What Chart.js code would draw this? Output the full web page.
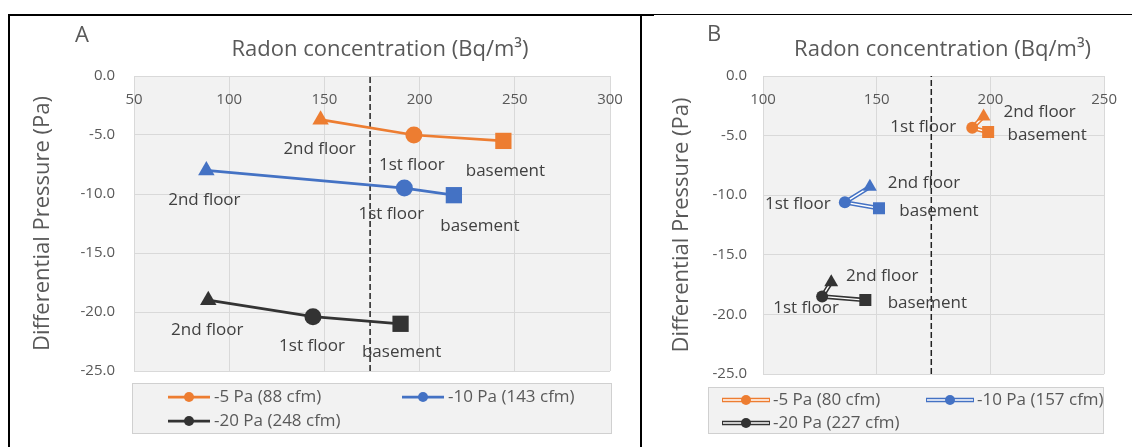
<!DOCTYPE html>
<html>
<head>
<meta charset="utf-8">
<script src="https://cdn.jsdelivr.net/npm/chart.js@4.4.1/dist/chart.umd.min.js"></script>
<style>
html,body{margin:0;padding:0;background:#fff;}
body{width:1132px;height:447px;position:relative;overflow:hidden;}
.wrap{position:absolute;top:16px;}
.rule{position:absolute;background:#000;}
canvas{display:block;}
</style>
</head>
<body>
<div class="rule" style="left:8px;top:14px;width:646px;height:2px"></div>
<div class="rule" style="left:654px;top:14px;width:478px;height:1px"></div>
<div class="rule" style="left:8px;top:14px;width:2px;height:433px"></div>
<div class="rule" style="left:640px;top:14px;width:2px;height:433px"></div>
<div class="wrap" style="left:10px"><canvas id="chartA" width="630" height="431"></canvas></div>
<div class="wrap" style="left:643px"><canvas id="chartB" width="489" height="431"></canvas></div>
<script>
// ---------------- data ----------------
const floors = ['2nd floor', '1st floor', 'basement'];
const floorMarkers = ['triangle', 'circle', 'rect'];

// Panel A
const seriesNamesA = ['-5 Pa (88 cfm)', '-10 Pa (143 cfm)', '-20 Pa (248 cfm)'];
const radonA5 = [148, 197, 244];
const pressureA5 = [-3.7, -5.0, -5.5];
const radonA10 = [88, 192, 218];
const pressureA10 = [-8.0, -9.5, -10.1];
const radonA20 = [89, 144, 190];
const pressureA20 = [-19.0, -20.4, -21.0];

// Panel B
const seriesNamesB = ['-5 Pa (80 cfm)', '-10 Pa (157 cfm)', '-20 Pa (227 cfm)'];
const radonB5 = [197, 192, 199];
const pressureB5 = [-3.4, -4.35, -4.7];
const radonB10 = [147, 136, 151];
const pressureB10 = [-9.3, -10.6, -11.1];
const radonB20 = [130, 126, 145];
const pressureB20 = [-17.3, -18.5, -18.8];

// reference level (dashed vertical line)
const radonGuideline = 174;

// axis ticks: [min, max, step]
const xTicksA = [50, 300, 50];
const xTicksB = [100, 250, 50];
const yTicks = [-25, 0, 5];

const xTitle = 'Radon concentration (Bq/m\u00B3)';
const yTitle = 'Differential Pressure (Pa)';

// ---------------- styles ----------------
const FONT = "'Open Sans', 'DejaVu Sans', sans-serif";
const COLORS = ['#ED7D31', '#4472C4', '#333333'];
const GRAY_TEXT = '#595959';
const LABEL_TEXT = '#404040';
const GRID = '#d9d9d9';

const labelOffsetsA = [
  [[-1, 29], [-2, 30], [2, 30]],
  [[-2, 30], [-13, 26], [26, 31]],
  [[-1, 30], [-1, 29], [1, 28]]
];
const labelOffsetsB = [
  [[56, -4], [-49, -1], [59, 3]],
  [[54, -4], [-47, 2], [60, 3]],
  [[51, -6], [-16, 12], [62, 3]]
];

// ---------------- plugins ----------------
const plotBg = {
  id: 'plotBg',
  beforeDraw(chart, args, o) {
    const {ctx, chartArea: a} = chart;
    ctx.save();
    ctx.fillStyle = o.color;
    ctx.fillRect(a.left, a.top, a.right - a.left, a.bottom - a.top);
    ctx.restore();
  }
};

const panelText = {
  id: 'panelText',
  afterDraw(chart, args, o) {
    const {ctx, chartArea: a} = chart;
    ctx.save();
    ctx.fillStyle = o.color;
    ctx.textBaseline = 'middle';
    ctx.textAlign = 'center';
    ctx.font = o.letterSize + 'px ' + FONT;
    ctx.fillText(o.letter, o.letterX, o.letterY);
    ctx.font = o.titleSize + 'px ' + FONT;
    ctx.fillText(o.title, (a.left + a.right) / 2 + o.titleDx, o.titleY);
    ctx.restore();
  }
};

const floorLabels = {
  id: 'floorLabels',
  afterDatasetsDraw(chart, args, o) {
    const ctx = chart.ctx;
    ctx.save();
    ctx.font = o.size + 'px ' + FONT;
    ctx.fillStyle = o.color;
    ctx.textAlign = 'center';
    ctx.textBaseline = 'middle';
    chart.data.datasets.forEach((ds, i) => {
      if (!ds.pointLabels) return;
      const meta = chart.getDatasetMeta(i);
      meta.data.forEach((el, j) => {
        const off = ds.labelOffsets[j];
        ctx.fillText(ds.pointLabels[j], el.x + off[0], el.y + off[1]);
      });
    });
    ctx.restore();
  }
};

const boxLegend = {
  id: 'boxLegend',
  afterDraw(chart, args, o) {
    const {ctx, chartArea: a} = chart;
    ctx.save();
    const x0 = Math.round(a.left + o.box[0]), x1 = Math.round(a.right + o.box[1]);
    const y0 = Math.round(a.bottom + o.box[2]), y1 = Math.round(a.bottom + o.box[3]);
    ctx.fillStyle = o.fill;
    ctx.fillRect(x0, y0, x1 - x0, y1 - y0);
    ctx.strokeStyle = o.border;
    ctx.lineWidth = 1;
    ctx.strokeRect(x0 + 0.5, y0 + 0.5, x1 - x0 - 1, y1 - y0 - 1);
    ctx.font = o.size + 'px ' + FONT;
    ctx.textBaseline = 'middle';
    ctx.textAlign = 'left';
    o.items.forEach((text, k) => {
      const sx = a.left + o.slots[k][0], sy = a.bottom + o.slots[k][1];
      ctx.strokeStyle = o.colors[k];
      ctx.lineWidth = o.double ? 4.5 : 2.75;
      ctx.beginPath(); ctx.moveTo(sx, sy); ctx.lineTo(sx + o.sampleW, sy); ctx.stroke();
      if (o.double) {
        ctx.strokeStyle = '#ffffff';
        ctx.lineWidth = 1.5;
        ctx.beginPath(); ctx.moveTo(sx + 1, sy); ctx.lineTo(sx + o.sampleW - 1, sy); ctx.stroke();
      }
      ctx.fillStyle = o.colors[k];
      ctx.beginPath(); ctx.arc(sx + o.sampleW / 2, sy, o.markerR, 0, Math.PI * 2); ctx.fill();
      ctx.fillStyle = GRAY_TEXT;
      ctx.fillText(text, sx + o.textDx, sy);
    });
    ctx.restore();
  }
};

// ---------------- builders ----------------
function points(xs, ys) { return xs.map((x, i) => ({x: x, y: ys[i]})); }

function guideDataset() {
  return {
    data: [{x: radonGuideline, y: yTicks[0]}, {x: radonGuideline, y: yTicks[1]}],
    borderColor: '#222222', borderWidth: 1.5, borderDash: [6, 3],
    pointRadius: 0, showLine: true, order: 20
  };
}

function singleSeries(xs, ys, color, offsets, radii, lw) {
  return {
    data: points(xs, ys),
    showLine: true,
    borderColor: color, borderWidth: lw,
    backgroundColor: color,
    pointStyle: floorMarkers, pointRadius: radii, pointBorderWidth: 0,
    pointBackgroundColor: color,
    pointLabels: floors, labelOffsets: offsets,
    order: 5
  };
}

function doubleSeries(xs, ys, color, offsets, radii) {
  const pts = points(xs, ys);
  return [
    {data: pts, showLine: true, borderColor: color, borderWidth: 4.5, pointRadius: 0, order: 9},
    {data: pts, showLine: true, borderColor: '#ffffff', borderWidth: 1.4, pointRadius: 0, order: 8},
    {data: pts, showLine: false, backgroundColor: color, pointBackgroundColor: color,
     pointStyle: floorMarkers, pointRadius: radii, pointBorderWidth: 0,
     pointLabels: floors, labelOffsets: offsets, order: 1}
  ];
}

function makeOptions(cfg) {
  return {
    responsive: false,
    animation: false,
    events: [],
    layout: {padding: cfg.padding},
    scales: {
      x: {
        type: 'linear',
        position: {y: 0},
        min: cfg.xTicks[0], max: cfg.xTicks[1],
        ticks: {stepSize: cfg.xTicks[2], padding: 15, color: GRAY_TEXT, font: {family: FONT, size: 15}},
        grid: {color: GRID, drawTicks: false, lineWidth: 1},
        border: {display: false}
      },
      y: {
        type: 'linear',
        position: 'left',
        min: yTicks[0], max: yTicks[1],
        ticks: {stepSize: yTicks[2], padding: cfg.yPad, color: GRAY_TEXT,
                font: {family: FONT, size: 15},
                callback: (v) => Number(v).toFixed(1)},
        grid: {color: GRID, drawTicks: false, lineWidth: 1},
        border: {display: false},
        title: {display: true, text: yTitle, color: GRAY_TEXT, font: {family: FONT, size: 22},
                padding: {top: 4, bottom: 4}},
        afterFit: (s) => { s.width = cfg.yWidth; }
      }
    },
    plugins: {
      legend: {display: false},
      tooltip: {enabled: false},
      plotBg: {color: '#f2f2f2'},
      panelText: {color: GRAY_TEXT, letter: cfg.letter, letterSize: 22, letterX: cfg.letterXY[0], letterY: cfg.letterXY[1],
                  title: xTitle, titleSize: 22, titleDx: cfg.titleDx, titleY: 34},
      floorLabels: {size: 17, color: LABEL_TEXT},
      boxLegend: cfg.legend
    }
  };
}

// ---------------- chart A ----------------
const dataA = [
  singleSeries(radonA5, pressureA5, COLORS[0], labelOffsetsA[0], [9.5, 8.5, 11.5], 2.75),
  singleSeries(radonA10, pressureA10, COLORS[1], labelOffsetsA[1], [9.5, 8.5, 11.5], 2.75),
  singleSeries(radonA20, pressureA20, COLORS[2], labelOffsetsA[2], [9.5, 8.5, 11.5], 2.75),
  guideDataset()
];

new Chart(document.getElementById('chartA'), {
  type: 'scatter',
  data: {datasets: dataA},
  options: makeOptions({
    padding: {left: 16, top: 60, right: 30, bottom: 76},
    xTicks: xTicksA, yPad: 19, yWidth: 108,
    letter: 'A', letterXY: [72, 20], titleDx: 8,
    legend: {items: seriesNamesA, colors: COLORS, double: false,
             box: [-2, 2, 12, 63], slots: [[34, 26], [268, 26], [34, 50]],
             sampleW: 42, markerR: 5, textDx: 46, size: 17,
             fill: '#f2f2f2', border: '#d0d0d0'}
  }),
  plugins: [plotBg, panelText, floorLabels, boxLegend]
});

// ---------------- chart B ----------------
const dataB = [].concat(
  doubleSeries(radonB5, pressureB5, COLORS[0], labelOffsetsB[0], [8, 6, 8.5]),
  doubleSeries(radonB10, pressureB10, COLORS[1], labelOffsetsB[1], [8, 6, 8.5]),
  doubleSeries(radonB20, pressureB20, COLORS[2], labelOffsetsB[2], [8, 6, 8.5]),
  [guideDataset()]
);

new Chart(document.getElementById('chartB'), {
  type: 'scatter',
  data: {datasets: dataB},
  options: makeOptions({
    padding: {left: 22, top: 60, right: 19, bottom: 73},
    xTicks: xTicksB, yPad: 16, yWidth: 98,
    letter: 'B', letterXY: [71, 19], titleDx: 9,
    legend: {items: seriesNamesB, colors: COLORS, double: true,
             box: [-55, 0, 13, 60], slots: [[-41, 26], [163, 26], [-41, 49]],
             sampleW: 48, markerR: 5, textDx: 51, size: 17,
             fill: '#f2f2f2', border: '#d0d0d0'}
  }),
  plugins: [plotBg, panelText, floorLabels, boxLegend]
});
</script>
</body>
</html>
